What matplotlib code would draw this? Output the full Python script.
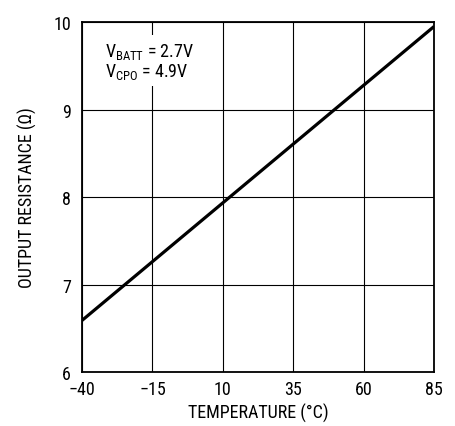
import numpy as np
import matplotlib
matplotlib.use("Agg")
import matplotlib.pyplot as plt

plt.rcParams["font.family"] = ["Roboto Condensed", "Roboto", "DejaVu Sans"]
plt.rcParams["mathtext.default"] = "regular"

temp = [-40, 85]
r_out = [6.59, 9.95]
xticks = [-40, -15, 10, 35, 60, 85]
yticks = [6, 7, 8, 9, 10]

fig = plt.figure(figsize=(4.56, 4.27), dpi=100)
ax = fig.add_axes([0.180, 0.1265, 0.772, 0.8195])

ax.plot(temp, r_out, color="black", lw=2.3, solid_capstyle="butt", zorder=3)

ax.set_xlim(-40, 85)
ax.set_ylim(6, 10)
ax.set_xticks(xticks)
ax.set_yticks(yticks)
ax.set_xticklabels(["\u221240", "\u221215", "10", "35", "60", "85"])
ax.grid(True, color="black", lw=0.8)
ax.tick_params(length=0, labelsize=13)
ax.tick_params(axis="x", pad=6)
ax.tick_params(axis="y", pad=8)
for s in ax.spines.values():
    s.set_linewidth(1.3)

ax.set_xlabel("TEMPERATURE (\u00b0C)", fontsize=13, labelpad=3)
ax.set_ylabel("OUTPUT RESISTANCE (\u03a9)", fontsize=13, labelpad=12)

ax.text(-32, 9.56, "$V_{BATT}$ = 2.7V\n$V_{CPO}$ = 4.9V", fontsize=13,
        va="center", ha="left", linespacing=1.0,
        bbox=dict(facecolor="white", edgecolor="none", pad=4), zorder=4)

fig.savefig("out.png", dpi=100)
